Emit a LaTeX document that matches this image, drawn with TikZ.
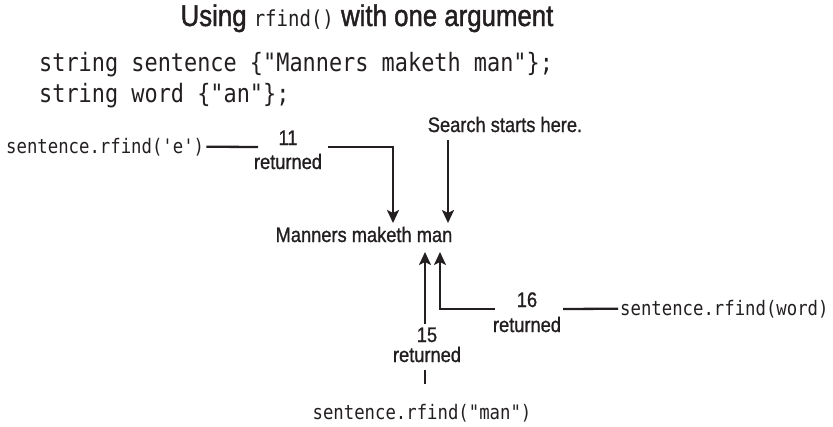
\documentclass[tikz,border=0pt]{standalone}
\usepackage{fontspec}
\newfontfamily\lblfont[FakeStretch=0.87,FakeBold=1.0]{Liberation Sans}
\newfontfamily\headfont[FakeStretch=0.86,FakeBold=1.4]{Liberation Sans}
\setmonofont{DejaVu Sans Mono}[FakeStretch=0.865]
\usetikzlibrary{arrows.meta}
\definecolor{ink}{HTML}{231F20}

\begin{document}
\begin{tikzpicture}[x=1pt, y=-1pt,
  lbl/.style={font=\lblfont\fontsize{21}{24}\selectfont, text=ink, inner sep=0pt, anchor=base},
  call/.style={font=\ttfamily\fontsize{20}{24}\selectfont, text=ink, inner sep=2pt},
  decl/.style={font=\ttfamily\fontsize{25.3}{30}\selectfont, text=ink, inner sep=0pt, anchor=base west},
  link/.style={line width=2.3pt, ink},
  >={Stealth[length=13pt,width=12pt,inset=3pt]}]

                \useasboundingbox (0,0) rectangle (833,426);

                \node[font=\headfont\fontsize{30}{36}\selectfont, text=ink, anchor=base] (T) at (367,26)
                     {Using {\ttfamily\fontsize{22}{24}\selectfont rfind()} with one argument};
                \node[decl] (D1) at (39,71) {string sentence \{"Manners maketh man"\};};
                \node[decl] (D2) at (39,102) {string word \{"an"\};};

                \node[lbl] (S) at (505,132) {Search starts here.};
                \node[lbl] (P) at (364,242) {Manners maketh man};

                \node[call, anchor=base west] (E) at (4,153) {sentence.rfind('e')};
                \node[lbl] (n11) at (288,145) {11};
                \node[lbl] (r11) at (288,169) {returned};

                \node[call, anchor=base west] (W) at (618,315) {sentence.rfind(word)};
                \node[lbl] (n16) at (527,307) {16};
                \node[lbl] (r16) at (527,332) {returned};

                \node[call, anchor=base] (M) at (422,419) {sentence.rfind("man")};
                \node[lbl] (n15) at (427,342) {15};
                \node[lbl] (r15) at (427,362) {returned};

                \coordinate (a1) at (258,147);
                \coordinate (a2) at (328,147);
                \coordinate (ea) at (393,223);
                \coordinate (s1) at (448,140);
                \coordinate (sa) at (448,223);
                \coordinate (b1) at (495,309);
                \coordinate (b2) at (563,309);
                \coordinate (wa) at (440,252);
                \coordinate (c1) at (425,324);
                \coordinate (ma) at (425,252);
                \coordinate (c2) at (425,370);
                \coordinate (c3) at (425,384);

                \draw[link] (E.east) -- (a1);
                \draw[link,->] (a2) -| (ea);
                \draw[link,->] (s1) -- (sa);
                \draw[link] (b2) -- (W.west);
                \draw[link,->] (b1) -| (wa);
                \draw[link,->] (c1) -- (ma);
                \draw[link] (c2) -- (c3);

\end{tikzpicture}
\end{document}
